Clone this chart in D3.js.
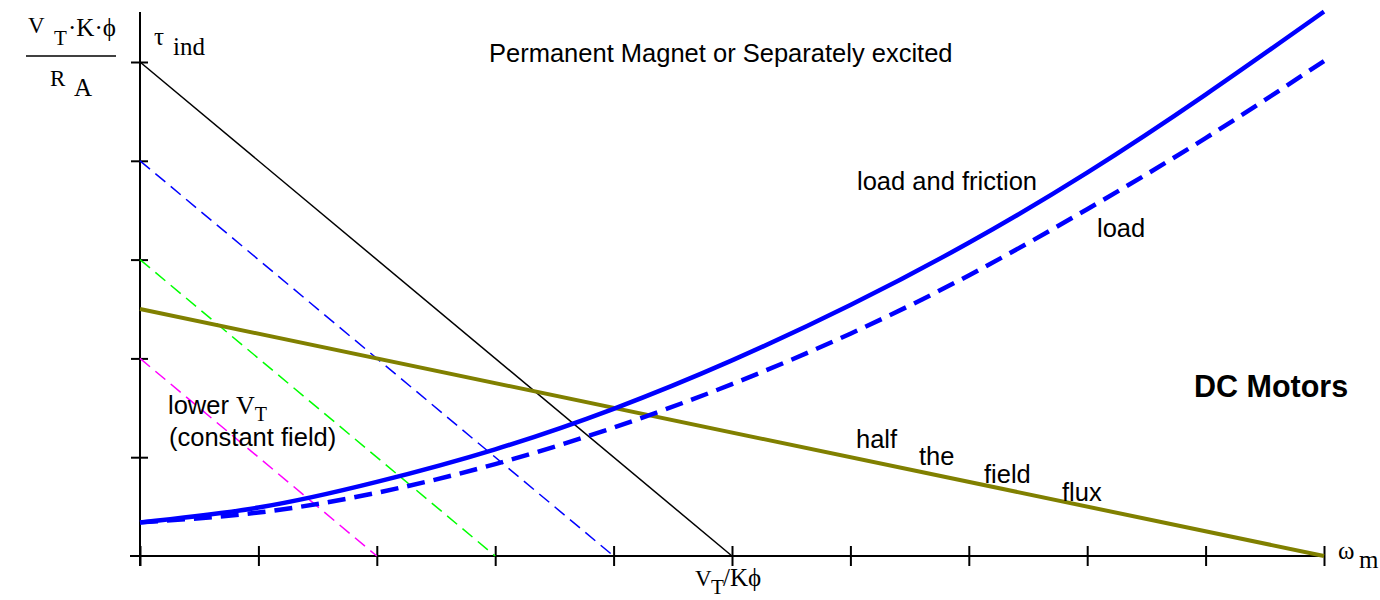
<!DOCTYPE html>
<html>
<head>
<meta charset="utf-8">
<script src="https://cdn.jsdelivr.net/npm/d3@7"></script>
<style>
  html, body { margin: 0; padding: 0; background: #fff; }
  svg { display: block; }
  .sans { font-family: "Liberation Sans", Arial, sans-serif; }
  .serif { font-family: "Liberation Serif", "Times New Roman", serif; }
</style>
</head>
<body>
<svg id="chart" width="1380" height="600"></svg>
<script>
// ---------------- data ----------------
const speedTicks = [0, 1, 2, 3, 4, 5, 6, 7, 8, 9, 10];
const torqueTicks = [1, 2, 3, 4, 5];
// speed samples for the load curves
const speed = [0, 1, 2, 3, 4, 5, 6, 7, 8, 9, 10];
const loadAndFriction = [0.34, 0.49, 0.75, 1.08, 1.49, 1.98, 2.54, 3.17, 3.88, 4.67, 5.51];
const loadOnly = [0.34, 0.44, 0.64, 0.93, 1.30, 1.74, 2.25, 2.84, 3.51, 4.23, 5.01];
// full terminal voltage torque-speed line: stall torque / no-load speed
const fullVT = { stall: 5, noLoad: 5 };
// lower terminal voltage (constant field) lines
const lowerVT = [
  { stall: 4, noLoad: 4, color: "#0000ff" },
  { stall: 3, noLoad: 3, color: "#00ff00" },
  { stall: 2, noLoad: 2, color: "#ff00ff" }
];
// half the field flux
const halfFlux = { stall: 2.5, noLoad: 10 };

// ---------------- chart ----------------
const svg = d3.select("#chart");
const x = d3.scaleLinear().domain([0, 10]).range([140, 1324]);
const y = d3.scaleLinear().domain([0, 5]).range([556, 62]);

const gAxes = svg.append("g");
gAxes.append("line")
  .attr("x1", x(0) - 10).attr("x2", x(10))
  .attr("y1", y(0)).attr("y2", y(0))
  .attr("stroke", "#000").attr("stroke-width", 2);
gAxes.append("line")
  .attr("x1", x(0)).attr("x2", x(0))
  .attr("y1", 12).attr("y2", y(0) + 10)
  .attr("stroke", "#000").attr("stroke-width", 2);

function styleAxis(g) {
  g.select(".domain").remove();
  g.selectAll("text").remove();
  g.selectAll(".tick line").attr("stroke", "#000").attr("stroke-width", 2);
}
gAxes.append("g").attr("transform", `translate(0,${y(0)})`)
  .call(d3.axisBottom(x).tickValues(speedTicks).tickSize(10).tickFormat(""))
  .call(styleAxis);
gAxes.append("g").attr("transform", `translate(0,${y(0)})`)
  .call(d3.axisTop(x).tickValues(speedTicks).tickSize(10).tickFormat(""))
  .call(styleAxis);
gAxes.append("g").attr("transform", `translate(${x(0)},0)`)
  .call(d3.axisLeft(y).tickValues(torqueTicks).tickSize(9).tickFormat(""))
  .call(styleAxis);
gAxes.append("g").attr("transform", `translate(${x(0)},0)`)
  .call(d3.axisRight(y).tickValues(torqueTicks).tickSize(8).tickFormat(""))
  .call(styleAxis);

const lineGen = d3.line().x(d => x(d[0])).y(d => y(d[1]));

lowerVT.forEach(l => {
  svg.append("path")
    .attr("d", lineGen([[0, l.stall], [l.noLoad, 0]]))
    .attr("fill", "none").attr("stroke", l.color)
    .attr("stroke-width", 1.5).attr("stroke-dasharray", "13,7");
});
svg.append("path")
  .attr("d", lineGen([[0, fullVT.stall], [fullVT.noLoad, 0]]))
  .attr("fill", "none").attr("stroke", "#000").attr("stroke-width", 1.5);
svg.append("path")
  .attr("d", lineGen([[0, halfFlux.stall], [halfFlux.noLoad, 0]]))
  .attr("fill", "none").attr("stroke", "#808000").attr("stroke-width", 4);

const curveGen = d3.line().x(d => x(d[0])).y(d => y(d[1])).curve(d3.curveNatural);
svg.append("path")
  .attr("d", curveGen(speed.map((s, i) => [s, loadOnly[i]])))
  .attr("fill", "none").attr("stroke", "#0000ff").attr("stroke-width", 4.5)
  .attr("stroke-dasharray", "18,9");
svg.append("path")
  .attr("d", curveGen(speed.map((s, i) => [s, loadAndFriction[i]])))
  .attr("fill", "none").attr("stroke", "#0000ff").attr("stroke-width", 4.5);

// ---------------- text ----------------
const sansSize = 25.5;
function sans(tx, ty, str, opts = {}) {
  return svg.append("text").attr("class", "sans")
    .attr("x", tx).attr("y", ty)
    .attr("font-size", opts.size || sansSize)
    .attr("font-weight", opts.weight || "normal")
    .attr("fill", "#000").text(str);
}
sans(489, 62, "Permanent Magnet or Separately excited");
sans(857, 190, "load and friction");
sans(1097, 237, "load");
sans(1194, 397, "DC Motors", { size: 30.5, weight: "bold" });
sans(856, 448, "half");
sans(919, 465, "the");
sans(984, 483, "field");
sans(1062, 501, "flux");

const lowerTxt = svg.append("text").attr("x", 168).attr("y", 414);
lowerTxt.append("tspan").attr("class", "sans").attr("font-size", sansSize).text("lower ");
lowerTxt.append("tspan").attr("class", "serif").attr("font-size", 26).text("V");
lowerTxt.append("tspan").attr("class", "serif").attr("font-size", 20).attr("dy", 7).text("T");
sans(169, 446, "(constant field)");

const mainSize = 25, subSize = 21;
// y-axis label fraction
const num = svg.append("text").attr("class", "serif").attr("font-size", mainSize);
num.append("tspan").attr("x", 28).attr("y", 33).attr("font-size", 23).text("V");
num.append("tspan").attr("x", 54).attr("y", 45).attr("font-size", subSize).text("T");
num.append("tspan").attr("x", 68).attr("y", 36).text("·K·ϕ");
svg.append("line").attr("x1", 26).attr("x2", 116).attr("y1", 56).attr("y2", 56)
  .attr("stroke", "#000").attr("stroke-width", 1.5);
const den = svg.append("text").attr("class", "serif").attr("font-size", 23);
den.append("tspan").attr("x", 50).attr("y", 86).text("R");
den.append("tspan").attr("x", 74).attr("y", 96).attr("font-size", mainSize).text("A");

// tau ind
const tau = svg.append("text").attr("class", "serif").attr("font-size", mainSize);
tau.append("tspan").attr("x", 154).attr("y", 45).text("τ");
tau.append("tspan").attr("x", 173).attr("y", 55).text("ind");

// omega m
const om = svg.append("text").attr("class", "serif").attr("font-size", mainSize);
om.append("tspan").attr("x", 1338).attr("y", 559).text("ω");
om.append("tspan").attr("x", 1359).attr("y", 568).text("m");

// V_T / K phi
const vk = svg.append("text").attr("class", "serif").attr("font-size", mainSize);
vk.append("tspan").attr("x", 695).attr("y", 586).attr("font-size", 23).text("V");
vk.append("tspan").attr("x", 711).attr("y", 594).attr("font-size", subSize).text("T");
vk.append("tspan").attr("x", 723).attr("y", 586).text("/Kϕ");
</script>
</body>
</html>
